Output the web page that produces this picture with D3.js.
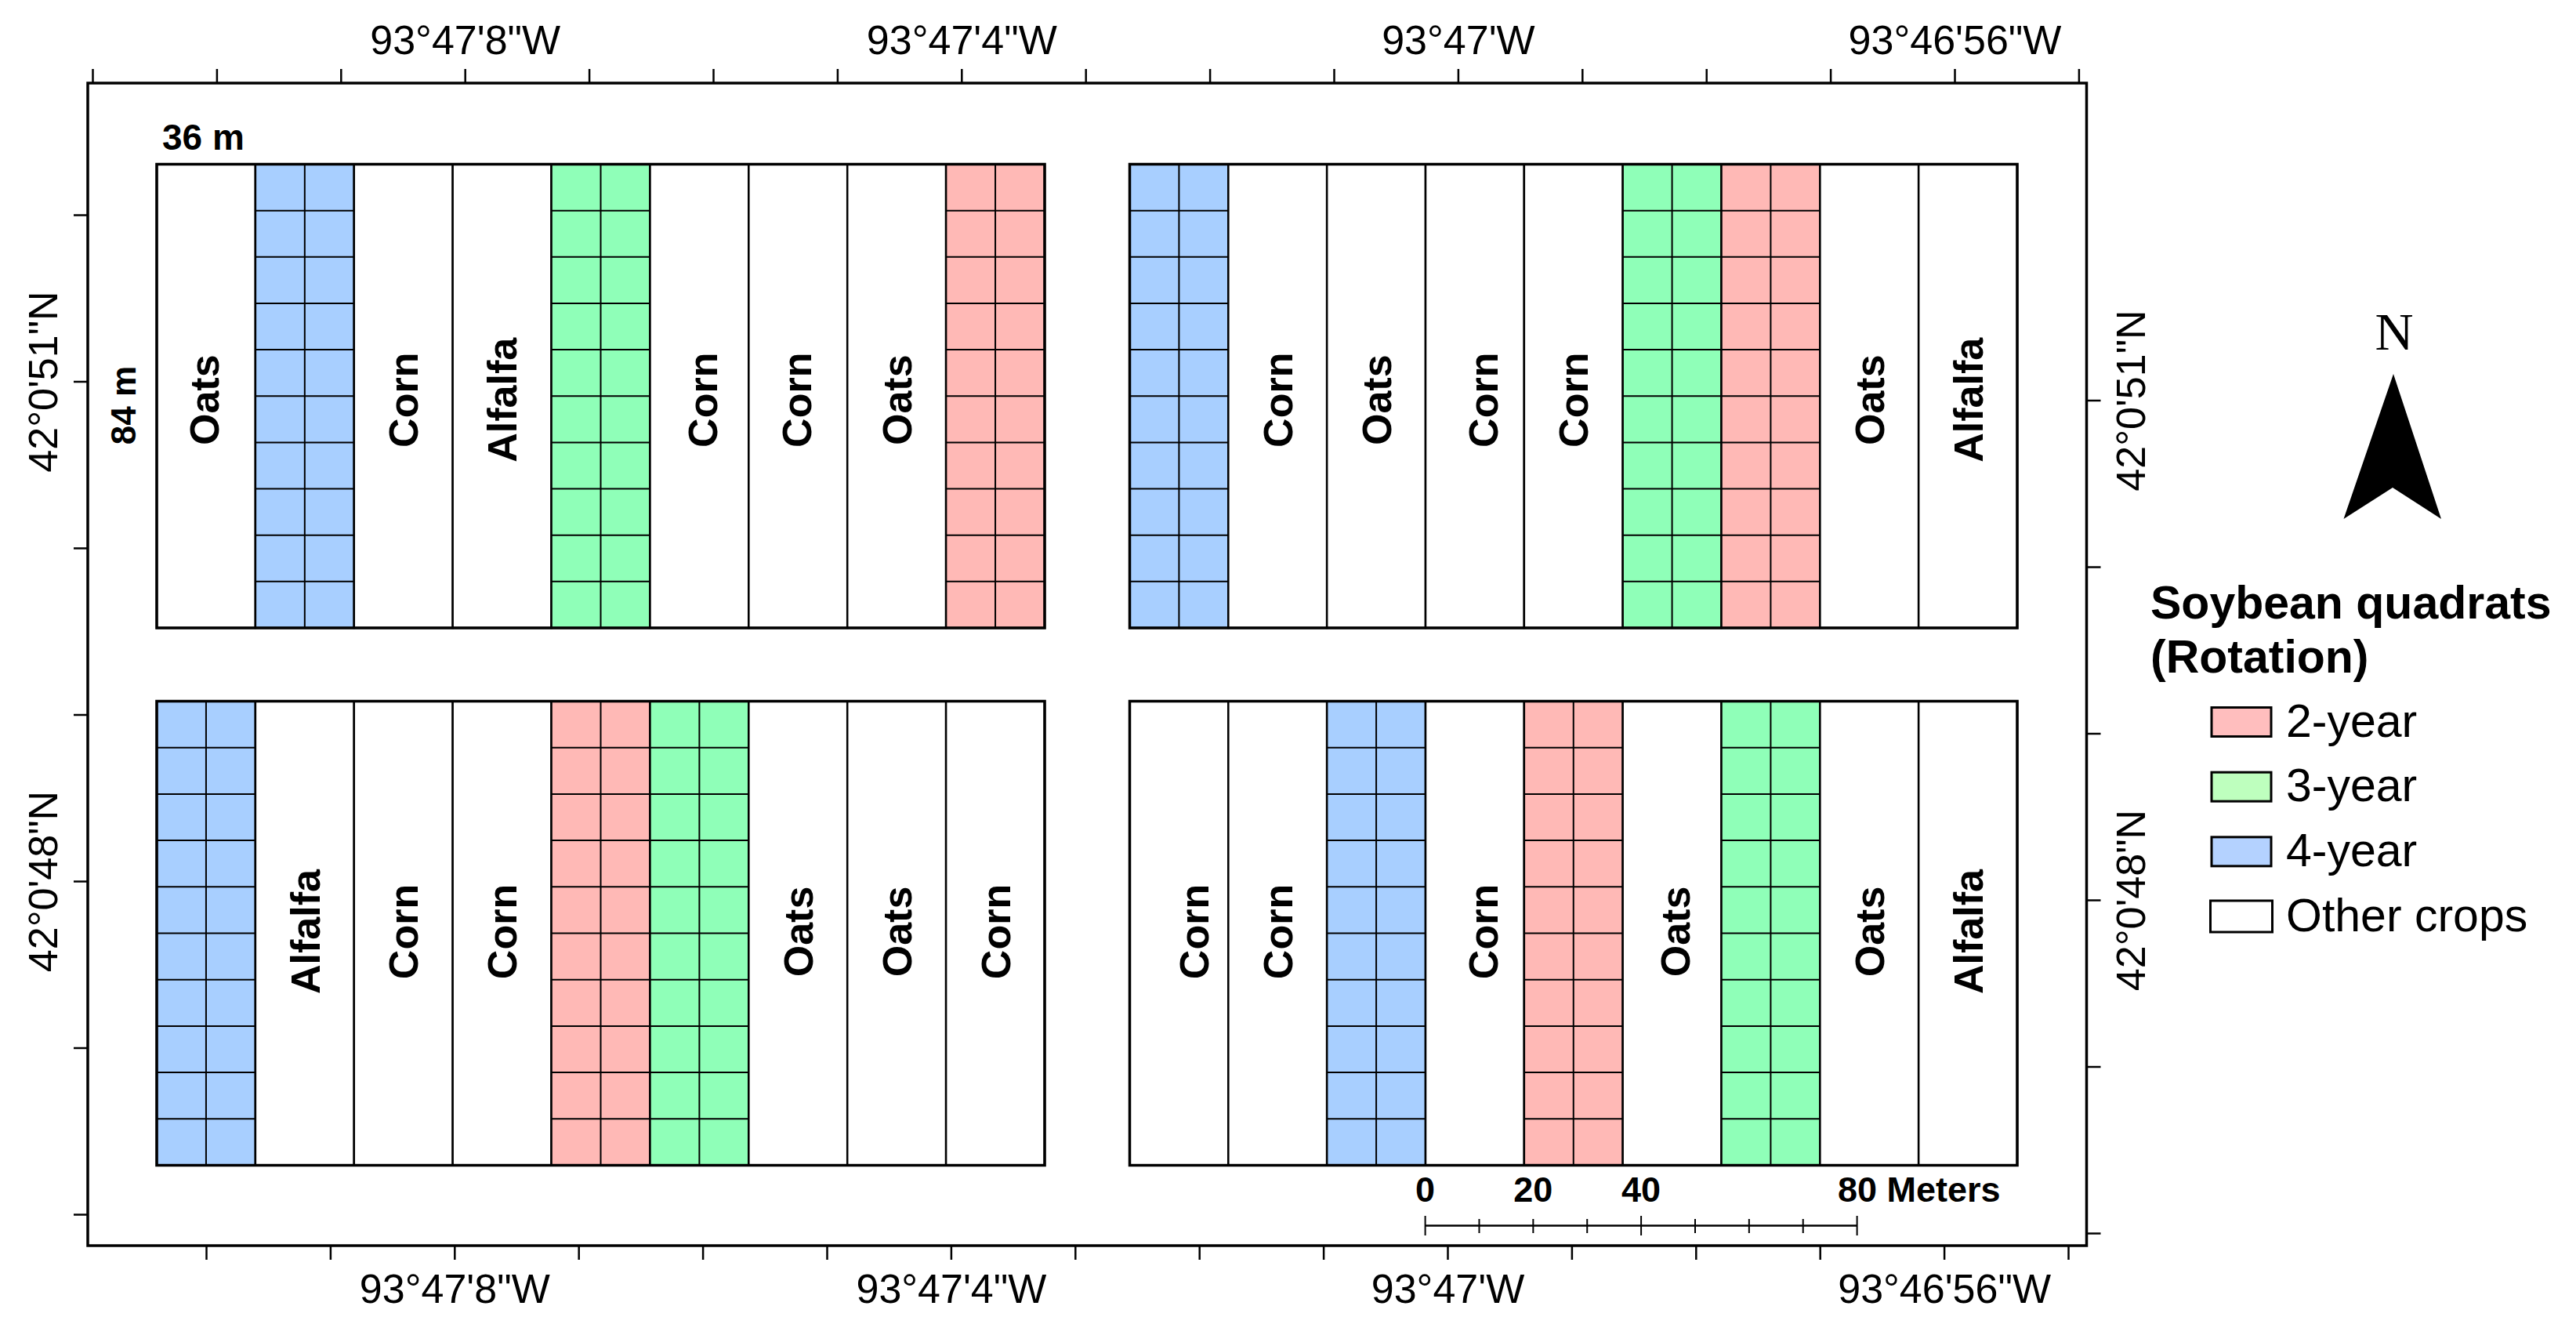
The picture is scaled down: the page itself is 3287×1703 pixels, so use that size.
<!DOCTYPE html>
<html>
  <head>
    <title>Soybean quadrats</title>
    <script src="https://cdn.jsdelivr.net/npm/d3@7/dist/d3.min.js"></script>
    <style>
      html, body { margin: 0; padding: 0; background: white; }
      svg { display: block; }
      text { font-family: "Liberation Sans", Arial, sans-serif; fill: black; }
      .bold { font-weight: bold; }
    </style>
  </head>
  <body>
    <script>
      // crop in each strip, west to east
      var northWest = ['Oats', '4-year', 'Corn', 'Alfalfa', '3-year', 'Corn', 'Corn', 'Oats', '2-year'];
      var northEast = ['4-year', 'Corn', 'Oats', 'Corn', 'Corn', '3-year', '2-year', 'Oats', 'Alfalfa'];
      var southWest = ['4-year', 'Alfalfa', 'Corn', 'Corn', '2-year', '3-year', 'Oats', 'Oats', 'Corn'];
      var southEast = ['Corn', 'Corn', '4-year', 'Corn', '2-year', 'Oats', '3-year', 'Oats', 'Alfalfa'];

      var rotations = ['2-year', '3-year', '4-year'];
      var legendNames = ['2-year', '3-year', '4-year', 'Other crops'];
      var rowsPerStrip = 10;

      // graticule, in seconds of arc
      var lonTopTicks = [11, 10, 9, 8, 7, 6, 5, 4, 3, 2, 1, 0, -1, -2, -3, -4, -5];
      var lonBottomTicks = [10, 9, 8, 7, 6, 5, 4, 3, 2, 1, 0, -1, -2, -3, -4, -5];
      var latTicks = [52, 51, 50, 49, 48, 47, 46];
      var lonLabels = {'8': '93°47\'8"W', '4': '93°47\'4"W', '0': '93°47\'W', '-4': '93°46\'56"W'};
      var latLabels = {'51': '42°0\'51"N', '48': '42°0\'48"N'};

      var scaleBarTicks = [0, 10, 20, 30, 40, 50, 60, 70, 80];
      var scaleBarMajor = [0, 40, 80];
      var scaleBarLabels = [0, 20, 40];

      var fills = d3.scaleOrdinal().domain(rotations).range(['#ffb9b6', '#8fffb8', '#a8cfff']);
      var legendFills = d3.scaleOrdinal().domain(legendNames).range(['#ffbebe', '#beffbe', '#b4d2ff', 'white']);

      var svg = d3.select('body').append('svg').attr('width', 3287).attr('height', 1703);

      var frame = {left: 112, right: 2662.5, top: 106, bottom: 1589};

      var blockWest = d3.scaleLinear().domain([0, 9]).range([200, 1333]);
      var blockEast = d3.scaleLinear().domain([0, 9]).range([1441.5, 2574]);
      var blockNorth = d3.scaleLinear().domain([0, rowsPerStrip]).range([209.5, 801]);
      var blockSouth = d3.scaleLinear().domain([0, rowsPerStrip]).range([894.5, 1486.5]);

      // labels sit a little off the centre of their strip in the original
      var nudges = {
        'north-west-0': -3, 'north-west-5': 4, 'north-west-6': -2,
        'north-east-3': 10, 'south-east-0': 19, 'south-east-3': 10, 'south-east-5': 4
      };
      var labelShift = {'north-west': 5, 'north-east': 5, 'south-west': -2, 'south-east': -2};

      function drawBlock(name, crops, x, y) {
        var g = svg.append('g').attr('class', name);
        var rowTop = y.domain()[0], rowBottom = y.domain()[1];

        crops.forEach(function(crop, i) {
          var isQuadrat = rotations.indexOf(crop) >= 0;
          g.append('rect')
            .attr('x', x(i)).attr('y', y(rowTop))
            .attr('width', x(i + 1) - x(i)).attr('height', y(rowBottom) - y(rowTop))
            .attr('fill', isQuadrat ? fills(crop) : 'white')
            .attr('stroke', 'black').attr('stroke-width', 2.5);

          if (isQuadrat) {
            g.append('line')
              .attr('x1', x(i + 0.5)).attr('x2', x(i + 0.5))
              .attr('y1', y(rowTop)).attr('y2', y(rowBottom))
              .attr('stroke', 'black').attr('stroke-width', 2);
            d3.range(1, rowsPerStrip).forEach(function(r) {
              g.append('line')
                .attr('x1', x(i)).attr('x2', x(i + 1))
                .attr('y1', y(r)).attr('y2', y(r))
                .attr('stroke', 'black').attr('stroke-width', 2);
            });
          } else {
            var nudge = nudges[name + '-' + i] || 0;
            g.append('text')
              .attr('class', 'bold')
              .attr('transform', 'translate(' + (x(i + 0.5) + nudge) + ',' + (y(rowBottom / 2) + labelShift[name]) + ') rotate(-90)')
              .attr('text-anchor', 'middle').attr('dy', '0.36em')
              .attr('font-size', 52)
              .text(crop);
          }
        });

        g.append('rect')
          .attr('x', x(0)).attr('y', y(rowTop))
          .attr('width', x(crops.length) - x(0)).attr('height', y(rowBottom) - y(rowTop))
          .attr('fill', 'none').attr('stroke', 'black').attr('stroke-width', 3.5);
      }

      drawBlock('north-west', northWest, blockWest, blockNorth);
      drawBlock('north-east', northEast, blockEast, blockNorth);
      drawBlock('south-west', southWest, blockWest, blockSouth);
      drawBlock('south-east', southEast, blockEast, blockSouth);

      // neatline
      svg.append('rect')
        .attr('x', frame.left).attr('y', frame.top)
        .attr('width', frame.right - frame.left).attr('height', frame.bottom - frame.top)
        .attr('fill', 'none').attr('stroke', 'black').attr('stroke-width', 3.5);

      // graticule axes, each side has its own offset because the grid is slightly tilted
      var lonTop = d3.scaleLinear().domain([11, -5]).range([118, 2652.4]);
      var lonBottom = d3.scaleLinear().domain([10, -5]).range([263, 2639]);
      var latLeft = d3.scaleLinear().domain([52, 46]).range([274, 1549]);
      var latRight = d3.scaleLinear().domain([51, 46]).range([510.5, 1573]);

      function lonText(d) { return lonLabels[d] || ''; }
      function latText(d) { return latLabels[d] || ''; }

      function styleAxis(g) {
        g.select('.domain').remove();
        g.selectAll('.tick line').attr('stroke', 'black').attr('stroke-width', 2.5);
        g.selectAll('text').attr('font-size', 52).attr('font-family', '"Liberation Sans", Arial, sans-serif').attr('fill', 'black');
      }

      svg.append('g').attr('transform', 'translate(0,' + frame.top + ')')
        .call(d3.axisTop(lonTop).tickValues(lonTopTicks).tickSize(18).tickPadding(19).tickFormat(lonText))
        .call(styleAxis);

      svg.append('g').attr('transform', 'translate(0,' + frame.bottom + ')')
        .call(d3.axisBottom(lonBottom).tickValues(lonBottomTicks).tickSize(18).tickPadding(18).tickFormat(lonText))
        .call(styleAxis);

      svg.append('g').attr('transform', 'translate(' + frame.left + ',0)')
        .call(d3.axisLeft(latLeft).tickValues(latTicks).tickSize(18).tickPadding(0).tickFormat(latText))
        .call(styleAxis)
        .selectAll('text')
        .attr('text-anchor', 'middle').attr('dy', 0)
        .attr('transform', function() { return 'translate(-39,0) rotate(-90)'; })
        .attr('x', 0).attr('y', 0);

      svg.append('g').attr('transform', 'translate(' + frame.right + ',0)')
        .call(d3.axisRight(latRight).tickValues(latTicks.slice(1)).tickSize(18).tickPadding(0).tickFormat(latText))
        .call(styleAxis)
        .selectAll('text')
        .attr('text-anchor', 'middle').attr('dy', 0)
        .attr('transform', function() { return 'translate(74,0) rotate(-90)'; })
        .attr('x', 0).attr('y', 0);

      // plot dimensions
      svg.append('text').attr('class', 'bold').attr('x', 207).attr('y', 191).attr('font-size', 46).text('36 m');
      svg.append('text').attr('class', 'bold').attr('text-anchor', 'middle').attr('font-size', 44)
        .attr('transform', 'translate(173,517) rotate(-90)').text('84 m');

      // scale bar
      var meters = d3.scaleLinear().domain([0, 80]).range([1818.6, 2369.6]);
      var scaleBar = svg.append('g').attr('class', 'scale-bar');
      var scaleBarY = 1563.5;

      scaleBar.append('line')
        .attr('x1', meters(0)).attr('x2', meters(80))
        .attr('y1', scaleBarY).attr('y2', scaleBarY)
        .attr('stroke', 'black').attr('stroke-width', 2.5);

      scaleBar.selectAll('.mark').data(scaleBarTicks).enter().append('line')
        .attr('class', 'mark')
        .attr('x1', function(d) { return meters(d); })
        .attr('x2', function(d) { return meters(d); })
        .attr('y1', function(d) { return scaleBarY - (scaleBarMajor.indexOf(d) >= 0 ? 12.5 : 8.5); })
        .attr('y2', function(d) { return scaleBarY + (scaleBarMajor.indexOf(d) >= 0 ? 12.5 : 9.5); })
        .attr('stroke', 'black').attr('stroke-width', 2);

      scaleBar.selectAll('.label').data(scaleBarLabels).enter().append('text')
        .attr('class', 'label bold')
        .attr('x', function(d) { return meters(d); })
        .attr('y', 1533).attr('text-anchor', 'middle').attr('font-size', 45)
        .text(function(d) { return d; });

      scaleBar.append('text').attr('class', 'bold')
        .attr('x', 2345).attr('y', 1533).attr('font-size', 45)
        .text('80 Meters');

      // north arrow
      svg.append('text').attr('x', 3055).attr('y', 446).attr('text-anchor', 'middle')
        .attr('font-size', 68).style('font-family', '"Liberation Serif", serif').text('N');
      svg.append('path')
        .attr('d', 'M3054,477 L3115,662 L3053,622 L2990.5,662 Z')
        .attr('fill', 'black');

      // legend
      var legend = svg.append('g').attr('class', 'legend');
      var legendRows = d3.scalePoint().domain(legendNames).range([921, 1169]);

      legend.append('text').attr('class', 'bold').attr('x', 2744).attr('y', 789).attr('font-size', 59).text('Soybean quadrats');
      legend.append('text').attr('class', 'bold').attr('x', 2744).attr('y', 857.5).attr('font-size', 59).text('(Rotation)');

      // the "other crops" patch is drawn a touch larger than the three coloured ones
      function patchGrow(d) { return d === 'Other crops' ? 1.5 : 0; }

      legend.selectAll('rect').data(legendNames).enter().append('rect')
        .attr('x', function(d) { return 2822 - patchGrow(d); })
        .attr('width', function(d) { return 76 + 2 * patchGrow(d); })
        .attr('height', function(d) { return 37 + 2 * patchGrow(d); })
        .attr('y', function(d) { return legendRows(d) - 18.5 - patchGrow(d); })
        .attr('fill', function(d) { return legendFills(d); })
        .attr('stroke', 'black').attr('stroke-width', 3);

      legend.selectAll('text.name').data(legendNames).enter().append('text')
        .attr('class', 'name')
        .attr('x', 2917).attr('font-size', 59)
        .attr('y', function(d) { return legendRows(d) + 18.5; })
        .text(function(d) { return d; });
    </script>
  </body>
</html>
